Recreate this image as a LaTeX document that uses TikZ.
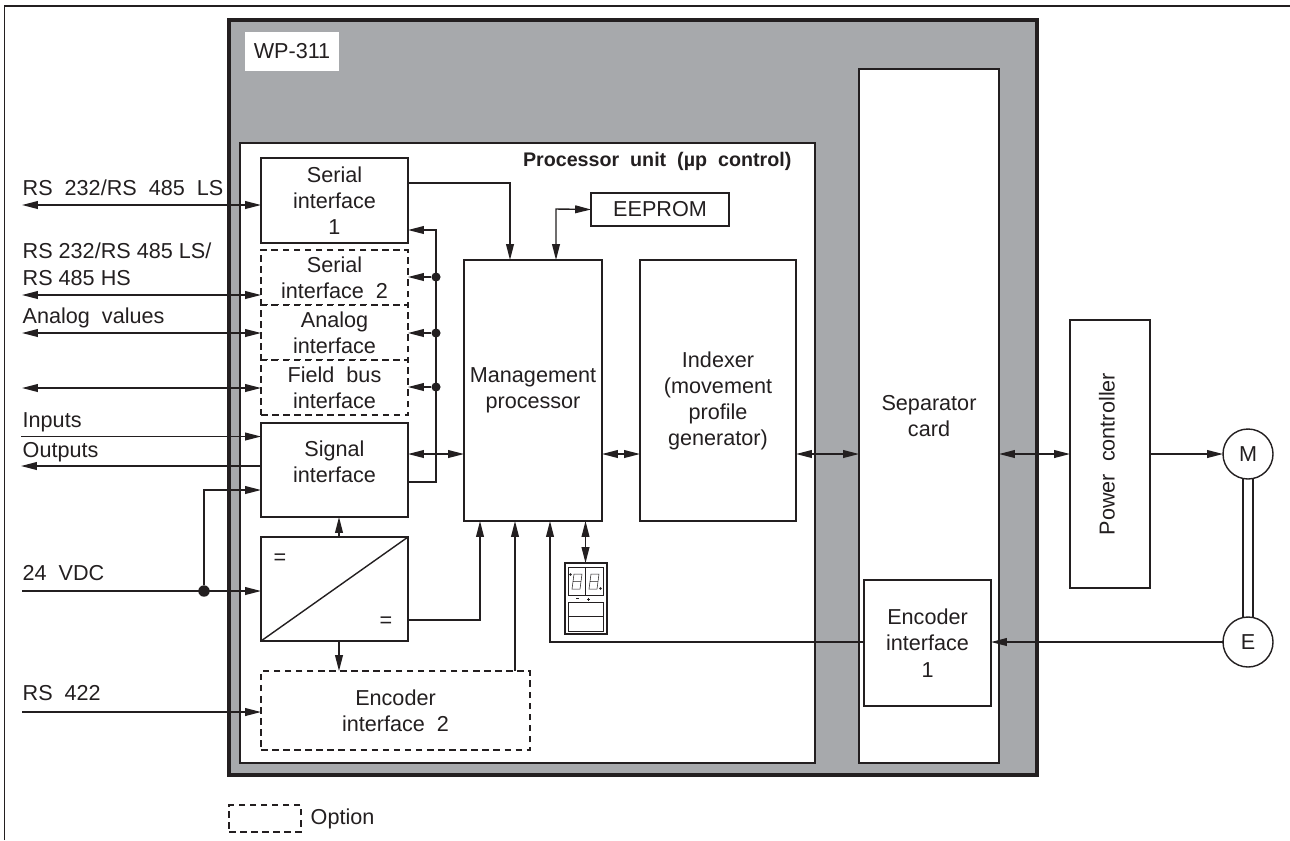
\documentclass[tikz,border=0pt]{standalone}
\usepackage{fontspec}
\setmainfont{Liberation Sans}
\usetikzlibrary{arrows.meta}
\definecolor{casegray}{HTML}{A7A9AC}
\definecolor{inkdark}{HTML}{231F20}
\begin{document}
\begin{tikzpicture}[x=0.02cm, y=-0.02cm, inkdark, line width=0.8pt,
		every node/.style={font=\fontsize{12.3}{14.9}\selectfont, text=inkdark},
		size/.style 2 args={minimum width=#1*0.02cm, minimum height=#2*0.02cm, inner sep=0pt, outer sep=0pt},
		block/.style={draw, fill=white, align=center},
		optional/.style={block, line width=0.7pt, dash pattern=on 3.7pt off 2.6pt},
		caption/.style={inner sep=0pt, align=center},
		label/.style={anchor=base west, inner sep=0pt, align=left},
		wheel/.style={circle, draw, fill=white, minimum size=50*0.02cm, inner sep=0pt, outer sep=0pt},
		tip/.style={-{Triangle[length=9pt, width=4.4pt]}},
		both/.style={{Triangle[length=9pt, width=4.4pt]}-{Triangle[length=9pt, width=4.4pt]}},
		dot/.style={circle, fill=inkdark, minimum size=5.2pt, inner sep=0pt}]

		\useasboundingbox (0,0) rectangle (1290,840);
		\draw[line width=0.9pt] (4.5,840) -- (4.5,6) -- (1290,6);

		% housing
		\node[draw, fill=casegray, line width=2.2pt, size={808}{755}] (case) at (633,397.5) {};
		\node[fill=white, size={94}{39}] (wp) at (292,51.5) {WP-311};
		\node[block, size={575}{620}] (unit) at (527.5,453) {};
		\node[anchor=base east, inner sep=0pt, font=\fontsize{11.2}{14}\selectfont\bfseries] (unitname) at (792,166) {Processor\ \ unit\ \ (µp\ \ control)};

		% blocks
		\node[block, size={147}{85}] (serone) at (334.5,200.5) {Serial\\interface\\1};
		\node[optional, size={147}{55}] (sertwo) at (334.5,277.5) {Serial\\interface\ \ 2};
		\node[optional, size={147}{55}] (analog) at (334.5,332.5) {Analog\\interface};
		\node[optional, size={147}{55}] (field) at (334.5,387.5) {Field\ \ bus\\interface};
		\node[block, size={147}{94}] (signal) at (334.5,470) {};
		\node[caption] (signaltext) at (334.5,462) {Signal\\interface};
		\node[block, size={147}{104}] (conv) at (334.5,589) {};
		\node[optional, size={269}{79}] (enctwo) at (395.5,710.5) {Encoder\\interface\ \ 2};
		\node[block, size={138}{261}] (mgmt) at (533,390.5) {Management\\processor};
		\node[block, size={156}{261}] (indexer) at (718,390.5) {};
		\node[caption] (indexertext) at (718,401) {Indexer\\(movement\\profile\\generator)};
		\node[block, size={138}{33}] (eeprom) at (660,209.5) {EEPROM};
		\node[block, size={140}{694}] (sep) at (929,416) {Separator\\card};
		\node[block, size={127}{126}] (encone) at (927.5,643) {Encoder\\interface\\1};
		\node[block, size={80}{268}] (power) at (1110,454) {};
		\node[caption, rotate=90] (powertext) at (1107,454) {Power\ \ controller};
		\node[wheel] (motor) at (1248,454) {M};
		\node[wheel] (enc) at (1248,642) {E};
		\node[draw, fill=white, line width=1.1pt, size={42}{71}] (disp) at (586,598.5) {};

		% converter
		\draw (conv.south west) -- (conv.north east);
		\node[inner sep=0pt] (eqin) at (280,559) {=};
		\node[inner sep=0pt] (eqout) at (386,622) {=};

		% display
		\draw[line width=0.5pt] (568.5,567.5) rectangle (603,595);
		\draw[line width=0.5pt] (585.5,567.5) -- (585.5,595);
		\draw[line width=0.5pt] (568.5,602) rectangle (603,631);
		\draw[line width=0.5pt] (568.5,616) -- (603,616);
		\draw[line width=0.3pt] (574,574) -- (582,574) -- (580,589) -- (572,589) -- cycle (573,581.5) -- (581,581.5);
		\draw[line width=0.3pt] (591,574) -- (599,574) -- (597,589) -- (589,589) -- cycle (590,581.5) -- (598,581.5);
		\fill (570.5,574.5) circle (1.3) (600.5,588.5) circle (1.3);
		\draw[line width=0.4pt] (576,598.5) -- (579,598.5) (587,599) -- (590,599) (588.5,597.5) -- (588.5,600.5);

		% left side terminals
		\coordinate (a) at (22,205);
		\coordinate (b) at (22,295);
		\coordinate (c) at (22,333);
		\coordinate (d) at (22,388);
		\coordinate (e) at (21,436.5);
		\coordinate (f) at (21,466);
		\coordinate (g) at (22,591);
		\coordinate (h) at (22,712);
		\coordinate (r) at (204,490);

		\node[label] (la) at (22,195) {RS\ \ 232/RS\ \ 485\ \ LS};
		\node[label] (lb) at (22,285) {RS 232/RS 485 LS/\\RS 485 HS};
		\node[label] (lc) at (22,323) {Analog\ \ values};
		\node[label] (le) at (22,427) {Inputs};
		\node[label] (lf) at (22,457) {Outputs};
		\node[label] (lg) at (22,580) {24\ \ VDC};
		\node[label] (lh) at (22,700) {RS\ \ 422};

		\draw[both] (a) -- (a -| serone.west);
		\draw[both] (b) -- (b -| sertwo.west);
		\draw[both] (c) -- (c -| analog.west);
		\draw[both] (d) -- (d -| field.west);
		\draw[tip] (e) -- (e -| signal.west);
		\draw[tip] (f -| signal.west) -- (f);
		\draw[tip] (g) -- (g -| conv.west);
		\draw[tip] (h) -- (h -| enctwo.west);
		\node[dot, minimum size=6.5pt] (gdot) at (204,591) {};
		\draw[tip] (gdot) -- (r) -- (r -| signal.west);

		% bus on the right of the interfaces
		\coordinate (bus) at (436,482);
		\node[dot] (ds) at (436,277) {};
		\node[dot] (da) at (436,333) {};
		\node[dot] (df) at (436,387) {};
		\draw[tip] (bus -| signal.east) -- (bus) -- (436,230) -- (serone.east |- 0,230);
		\draw[tip] (ds) -- (ds -| sertwo.east);
		\draw[tip] (da) -- (da -| analog.east);
		\draw[tip] (df) -- (df -| field.east);

		% main connectors
		\coordinate (s) at (510,183);
		\coordinate (m) at (0,454);
		\coordinate (ee) at (556,209);
		\coordinate (cv) at (480,620);
		\coordinate (en) at (550,642);
		\draw[tip] (s -| serone.east) -- (s) -- (s |- mgmt.north);
		\draw[both] (eeprom.west) -- (ee) -- (ee |- mgmt.north);
		\draw[both] (m -| signal.east) -- (m -| mgmt.west);
		\draw[both] (m -| mgmt.east) -- (m -| indexer.west);
		\draw[both] (m -| indexer.east) -- (m -| sep.west);
		\draw[both] (m -| sep.east) -- (m -| power.west);
		\draw[tip] (m -| power.east) -- (motor.west);
		\draw[tip] (cv -| conv.east) -- (cv) -- (cv |- mgmt.south);
		\draw[tip] (515,671) -- (515,521);
		\draw[tip] (en -| encone.west) -- (en) -- (en |- mgmt.south);
		\draw[both] (585.5,521) -- (585.5,563);
		\draw[tip] (339,537) -- (339,517);
		\draw[tip] (339,641) -- (339,671);
		\draw[tip] (enc.west) -- (encone.east |- enc.west);

		% shaft
		\draw (1243,478) -- (1243,618);
		\draw (1253,478) -- (1253,618);

		% legend
		\node[optional, size={72}{27}] (optbox) at (265,818.5) {};
		\node[anchor=base west, inner sep=0pt] (opttext) at (310,824) {Option};
	\end{tikzpicture}
\end{document}
